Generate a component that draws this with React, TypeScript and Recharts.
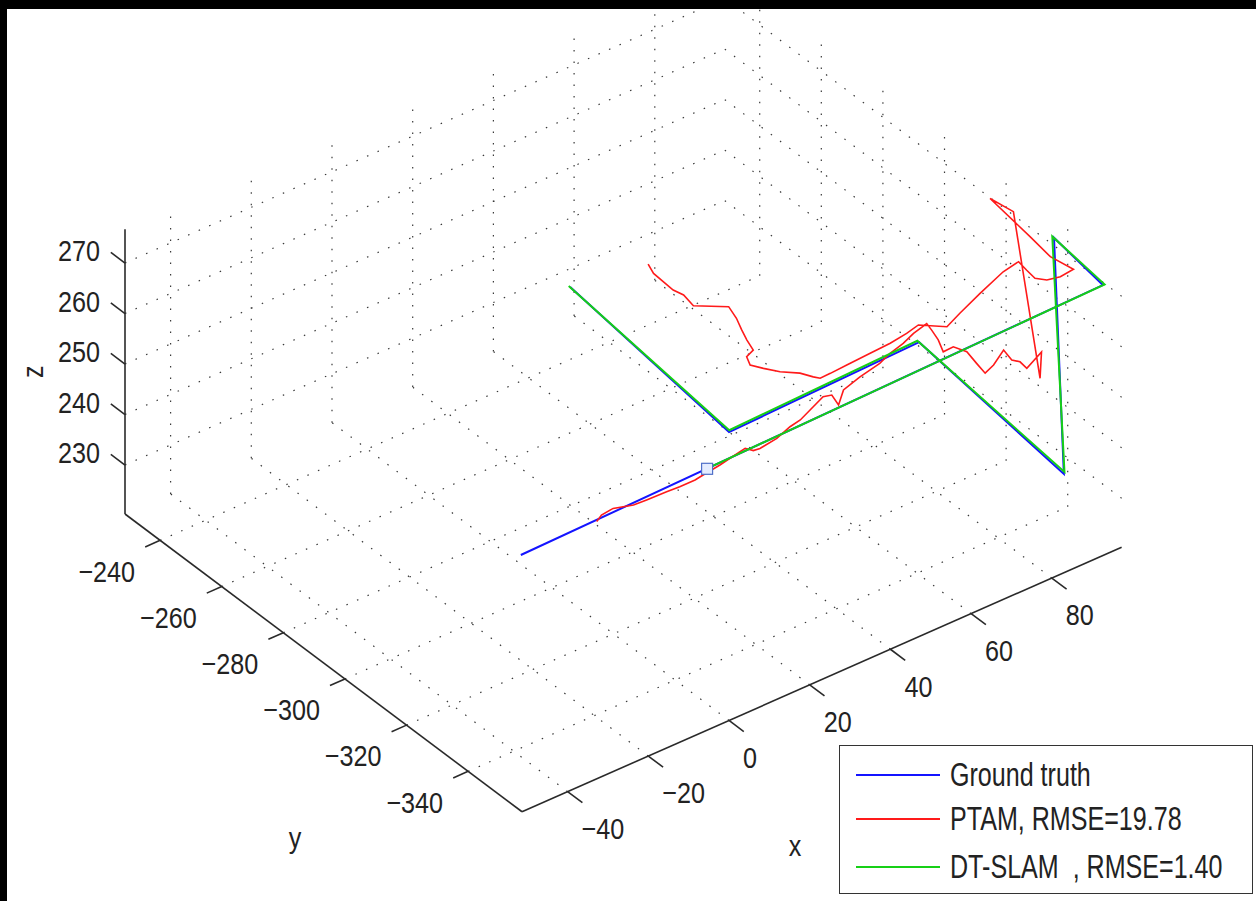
import React from 'react';
import { ComposedChart, Line, Scatter, XAxis, YAxis, ReferenceLine, ReferenceDot, Legend } from 'recharts';

const W = 1256;
const H = 901;
// the reference uses a narrow face; Liberation Sans squeezed sideways comes close
const FONT = '"Liberation Sans", Arial, sans-serif';
const TICK_SCALE = 0.84;
const LEGEND_SCALE = 0.76;

// axis limits, data units
const xLim = [-51.3, 97.3];
const yLim = [-357.5, -228.6];
const zLim = [220.3, 276.7];

const xTicks = [-40, -20, 0, 20, 40, 60, 80];
const yTicks = [-340, -320, -300, -280, -260, -240];
const zTicks = [230, 240, 250, 260, 270];

// ground truth path
const gtX = [-50.6, 96.4, 96.5, 96.5, 96.5, 49.4, 49.4];
const gtY = [-356.2, -352.6, -336.6, -339.8, -292.8, -292.8, -241.2];
const gtZ = [270.3, 270.3, 272.3, 227.0, 231.6, 230.4, 235.5];

// DT-SLAM estimate
const dtX = [-3.4, 96.6, 96.3, 96.8, 96.3, 49.6, 49.2];
const dtY = [-355.3, -352.9, -336.3, -339.6, -292.5, -292.6, -241.0];
const dtZ = [270.5, 270.5, 272.5, 227.2, 231.8, 230.6, 235.7];

// start marker
const startX = [-3.6];
const startY = [-355.1];
const startZ = [270.3];

// PTAM estimate
const ptamX = [
  -31.8, -29.7, -26.5, -22.6, -19.5, -14.7, -11.6, -7.8, -5.5, -0.8, 5.1, 6.6, 7.4, 8.9, 13.6, 18.1, 21.1,
  29.5, 31.2, 30.2, 34.1, 39.4, 45.3, 49.0, 53.1, 56.8, 60.9,
  60.3, 61.4, 61.8, 66.5, 69.7, 70.9, 70.2, 73.2, 77.9, 77.1, 78.0, 77.7, 83.4, 77.7,
  95.6, 94.7, 93.0, 92.0, 93.0,
  91.5, 88.7, 87.2, 87.6, 88.1, 83.6, 75.5, 68.2, 63.4, 59.3, 55.7, 51.1, 45.9, 39.8, 35.5, 32.9, 32.1,
  30.8, 28.0, 26.1, 24.7, 25.9, 28.3, 29.4, 30.7, 32.3, 33.5, 28.2, 28.9, 28.3, 28.5, 28.7, 29.8,
];
const ptamY = [
  -356.2, -355.0, -354.6, -356.1, -356.3, -356.5, -356.7, -356.7, -356.3, -355.6, -354.4, -354.1, -355.7, -355.9, -355.2, -353.6, -353.0,
  -349.4, -350.0, -353.5, -350.0, -348.4, -347.1, -345.6, -344.5, -343.0, -341.9,
  -344.3, -345.0, -346.1, -343.2, -343.4, -345.0, -348.7, -347.5, -344.6, -348.3, -349.8, -352.4, -349.7, -356.7,
  -324.6, -318.2, -333.4, -341.3, -347.5,
  -345.2, -344.5, -342.6, -339.4, -336.1, -337.0, -340.1, -343.1, -345.2, -341.3, -342.2, -342.9, -343.2, -343.6, -343.9, -344.0, -342.8,
  -340.2, -337.4, -334.5, -332.0, -329.3, -328.3, -324.8, -321.4, -317.6, -313.5, -309.0, -304.9, -302.3, -298.8, -295.4, -292.2,
];
const ptamZ = [
  270.3, 270.3, 270.3, 270.3, 270.3, 270.3, 270.3, 270.3, 270.3, 270.3, 270.3, 270.3, 270.3, 270.3, 270.3, 270.3, 270.3,
  270.3, 270.3, 270.3, 270.3, 270.3, 270.3, 270.3, 270.3, 270.3, 270.3,
  270.3, 268.3, 266.3, 264.3, 262.3, 260.3, 260.3, 260.3, 260.3, 260.3, 260.3, 260.3, 260.3, 260.3,
  272.3, 272.3, 272.3, 272.3, 272.3,
  270.3, 270.3, 270.3, 270.3, 270.3, 270.3, 270.3, 270.3, 270.3, 270.3, 270.3, 270.3, 270.3, 270.3, 270.3, 270.3, 270.3,
  270.3, 270.3, 270.3, 270.3, 270.3, 270.3, 270.3, 270.3, 270.3, 270.3, 270.3, 270.3, 270.3, 270.3, 270.3, 270.3,
];

// view: screen position of corner (xmin, ymax, zmin) and pixel step per data unit
const ORIGIN = [125, 514];
const EX = [4.035, -1.78];
const EY = [-3.08, -2.31];
const EZ = [0, -5.05];

type P3 = [number, number, number];

const proj = ([x, y, z]: P3) => {
  const u = x - xLim[0];
  const v = y - yLim[1];
  const w = z - zLim[0];
  return {
    sx: ORIGIN[0] + u * EX[0] + v * EY[0] + w * EZ[0],
    sy: ORIGIN[1] + u * EX[1] + v * EY[1] + w * EZ[1],
  };
};

const toPts = (xs: number[], ys: number[], zs: number[]) => xs.map((x, i) => proj([x, ys[i], zs[i]]));

const gtPts = toPts(gtX, gtY, gtZ);
const dtPts = toPts(dtX, dtY, dtZ);
const ptamPts = toPts(ptamX, ptamY, ptamZ);
const startPts = toPts(startX, startY, startZ);

const [x0, x1] = xLim;
const [y0, y1] = yLim;
const [z0, z1] = zLim;

// dotted grid on the floor and the two back walls
const gridSegs: [P3, P3][] = [
  ...xTicks.map((t) => [[t, y0, z0], [t, y1, z0]] as [P3, P3]),
  ...yTicks.map((t) => [[x0, t, z0], [x1, t, z0]] as [P3, P3]),
  ...xTicks.map((t) => [[t, y1, z0], [t, y1, z1]] as [P3, P3]),
  ...zTicks.map((t) => [[x0, y1, t], [x1, y1, t]] as [P3, P3]),
  ...yTicks.map((t) => [[x1, t, z0], [x1, t, z1]] as [P3, P3]),
  ...zTicks.map((t) => [[x1, y0, t], [x1, y1, t]] as [P3, P3]),
];

const axisSegs: [P3, P3][] = [
  [[x0, y0, z0], [x1, y0, z0]],
  [[x0, y0, z0], [x0, y1, z0]],
  [[x0, y1, z0], [x0, y1, z1]],
];

const tickSegs: [P3, P3][] = [
  ...xTicks.map((t) => [[t, y0, z0], [t, y0 - 4.8, z0]] as [P3, P3]),
  ...yTicks.map((t) => [[x0, t, z0], [x0 - 3.7, t, z0]] as [P3, P3]),
  ...zTicks.map((t) => [[x0, y1, t], [x0, y1 + 4.6, t]] as [P3, P3]),
];

const fmt = (t: number) => (t < 0 ? '\u2212' + Math.abs(t) : String(t));

const seg = (a: P3, b: P3) => {
  const p = proj(a);
  const q = proj(b);
  return [{ x: p.sx, y: p.sy }, { x: q.sx, y: q.sy }];
};

const textShape = (text: string, dx: number, dy: number, anchor: string, rotate = 0) => (p: any) => {
  const tx = p.cx + dx;
  const ty = p.cy + dy;
  const rot = rotate ? ` rotate(${rotate})` : '';
  return (
    <text
      x={0}
      y={0}
      transform={`translate(${tx} ${ty})${rot} scale(${TICK_SCALE} 1)`}
      textAnchor={anchor}
      dominantBaseline="central"
      fontSize={30}
      fontFamily={FONT}
      fill="#222"
    >
      {text}
    </text>
  );
};

const SERIES = ['Ground truth', 'PTAM, RMSE=19.78', 'DT-SLAM\u00a0\u00a0, RMSE=1.40'];
const rowCenters = [29, 73, 121];

const renderLegend = (props: any) => {
  const payload = (props.payload || []).filter((e: any) => SERIES.includes(e.value));
  payload.sort((a: any, b: any) => SERIES.indexOf(a.value) - SERIES.indexOf(b.value));
  return (
    <div
      style={{
        position: 'relative',
        width: 414,
        height: 149,
        border: '1.5px solid #333',
        background: '#fff',
        boxSizing: 'border-box',
        overflow: 'hidden',
      }}
    >
      {payload.map((e: any, i: number) => (
        <div
          key={e.value}
          style={{ position: 'absolute', left: 16, top: rowCenters[i] - 20, height: 40, display: 'flex', alignItems: 'center' }}
        >
          <span style={{ display: 'inline-block', width: 84, borderTop: `2px solid ${e.color}` }} />
          <span
            style={{
              display: 'inline-block',
              marginLeft: 10,
              fontSize: 33,
              fontFamily: FONT,
              color: '#222',
              whiteSpace: 'pre',
              transform: `scaleX(${LEGEND_SCALE})`,
              transformOrigin: '0 50%',
            }}
          >
            {e.value}
          </span>
        </div>
      ))}
    </div>
  );
};

const corner = proj([x0, y0, z0]);
const zMid = proj([x0, y1, (z0 + z1) / 2]);

export default function App() {
  return (
    <div style={{ position: 'absolute', left: 0, top: 0, width: W, height: H, background: '#000', overflow: 'hidden' }}>
      <div style={{ position: 'absolute', left: 7, top: 9, right: 0, bottom: 0, background: '#fff' }} />
      <div style={{ position: 'absolute', left: 0, top: 0 }}>
        <ComposedChart width={W} height={H} margin={{ top: 9, right: 0, bottom: 0, left: 7 }}>
          <XAxis type="number" dataKey="sx" domain={[7, W]} allowDataOverflow hide />
          <YAxis type="number" dataKey="sy" domain={[9, H]} allowDataOverflow reversed hide />

          {gridSegs.map(([a, b], i) => (
            <ReferenceLine
              key={`g${i}`}
              segment={seg(a, b)}
              stroke="#3a3a3a"
              strokeWidth={1.2}
              strokeDasharray="1.5 10"
              ifOverflow="hidden"
            />
          ))}
          {axisSegs.map(([a, b], i) => (
            <ReferenceLine key={`a${i}`} segment={seg(a, b)} stroke="#2a2a2a" strokeWidth={1.6} ifOverflow="visible" />
          ))}
          {tickSegs.map(([a, b], i) => (
            <ReferenceLine key={`t${i}`} segment={seg(a, b)} stroke="#2a2a2a" strokeWidth={1.6} ifOverflow="visible" />
          ))}

          {xTicks.map((t) => {
            const p = proj([t, y0, z0]);
            return <ReferenceDot key={`xl${t}`} x={p.sx} y={p.sy} r={0} ifOverflow="visible" shape={textShape(fmt(t), 14, 37, 'start')} />;
          })}
          {yTicks.map((t) => {
            const p = proj([x0, t, z0]);
            return <ReferenceDot key={`yl${t}`} x={p.sx} y={p.sy} r={0} ifOverflow="visible" shape={textShape(fmt(t), -25, 31, 'end')} />;
          })}
          {zTicks.map((t) => {
            const p = proj([x0, y1, t]);
            return <ReferenceDot key={`zl${t}`} x={p.sx} y={p.sy} r={0} ifOverflow="visible" shape={textShape(fmt(t), -25, -12, 'end')} />;
          })}

          <ReferenceDot x={corner.sx} y={corner.sy} r={0} ifOverflow="visible" shape={textShape('y', -227, 26, 'middle')} />
          <ReferenceDot x={corner.sx} y={corner.sy} r={0} ifOverflow="visible" shape={textShape('x', 273, 34, 'middle')} />
          <ReferenceDot x={zMid.sx} y={zMid.sy} r={0} ifOverflow="visible" shape={textShape('z', -92, 0, 'middle', -90)} />

          <Line data={gtPts} dataKey="sy" name="Ground truth" stroke="#1414ff" strokeWidth={2} dot={false} isAnimationActive={false} />
          <Line data={ptamPts} dataKey="sy" name="PTAM, RMSE=19.78" stroke="#ff1a1a" strokeWidth={1.6} dot={false} isAnimationActive={false} />
          <Line data={dtPts} dataKey="sy" name={'DT-SLAM\u00a0\u00a0, RMSE=1.40'} stroke="#16d016" strokeWidth={2} dot={false} isAnimationActive={false} />
          <Scatter
            data={startPts}
            dataKey="sy"
            legendType="none"
            isAnimationActive={false}
            shape={(p: any) => <rect x={p.cx - 5.5} y={p.cy - 5.5} width={11} height={11} fill="#e4ecff" stroke="#5070c8" strokeWidth={1.2} />}
          />

          <Legend
            layout="vertical"
            align="center"
            verticalAlign="middle"
            content={renderLegend}
            wrapperStyle={{ left: 839, top: 745, width: 414, height: 149 }}
          />
        </ComposedChart>
      </div>
    </div>
  );
}
